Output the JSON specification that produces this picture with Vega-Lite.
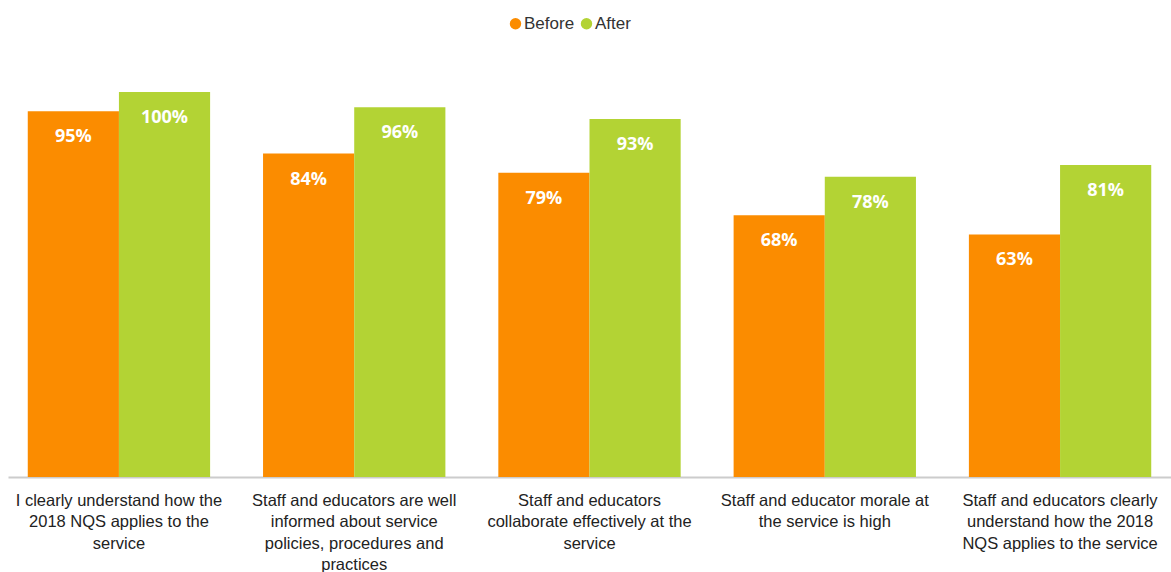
{
  "$schema": "https://vega.github.io/schema/vega-lite/v6.json",
  "autosize": {"type": "none"},
  "width": 1163,
  "height": 427,
  "padding": {"left": 8, "top": 50, "right": 0, "bottom": 95},
  "background": "white",
  "config": {"view": {"stroke": null}},
  "data": {
    "values": [
      {"statement": "I clearly understand how the|2018 NQS applies to the|service", "period": "Before", "value": 0.95},
      {"statement": "I clearly understand how the|2018 NQS applies to the|service", "period": "After", "value": 1.00},
      {"statement": "Staff and educators are well|informed about service|policies, procedures and|practices", "period": "Before", "value": 0.84},
      {"statement": "Staff and educators are well|informed about service|policies, procedures and|practices", "period": "After", "value": 0.96},
      {"statement": "Staff and educators|collaborate effectively at the|service", "period": "Before", "value": 0.79},
      {"statement": "Staff and educators|collaborate effectively at the|service", "period": "After", "value": 0.93},
      {"statement": "Staff and educator morale at|the service is high", "period": "Before", "value": 0.68},
      {"statement": "Staff and educator morale at|the service is high", "period": "After", "value": 0.78},
      {"statement": "Staff and educators clearly|understand how the 2018|NQS applies to the service", "period": "Before", "value": 0.63},
      {"statement": "Staff and educators clearly|understand how the 2018|NQS applies to the service", "period": "After", "value": 0.81}
    ]
  },
  "encoding": {
    "x": {
      "field": "statement",
      "type": "nominal",
      "sort": null,
      "scale": {"paddingInner": 0.225, "paddingOuter": 0.084},
      "axis": {
        "title": null,
        "labelAngle": 0,
        "labelExpr": "split(datum.label, '|')",
        "labelFont": "Liberation Sans",
        "labelFontSize": 16.5,
        "labelColor": "#222222",
        "labelLineHeight": 21.5,
        "labelPadding": 15,
        "labelLimit": 0,
        "ticks": false,
        "domainColor": "#cccccc",
        "domainWidth": 2,
        "labelBaseline": "top"
      }
    },
    "xOffset": {"field": "period", "type": "nominal", "sort": ["Before", "After"], "scale": {"paddingInner": 0, "paddingOuter": 0}},
    "y": {
      "field": "value",
      "type": "quantitative",
      "scale": {"domain": [0, 1.109], "nice": false, "zero": true},
      "axis": null
    }
  },
  "layer": [
    {
      "mark": {"type": "bar"},
      "encoding": {
        "color": {
          "field": "period",
          "type": "nominal",
          "sort": ["Before", "After"],
          "scale": {"domain": ["Before", "After"], "range": ["#fb8c00", "#b3d334"]},
          "legend": {
            "title": null,
            "orient": "none",
            "legendX": 499,
            "legendY": -35,
            "direction": "horizontal",
            "symbolType": "circle",
            "symbolSize": 130,
            "symbolStrokeWidth": 0,
            "labelFont": "Liberation Sans",
            "labelFontSize": 17,
            "labelColor": "#333333",
            "labelOffset": 0,
            "columnPadding": 3
          }
        }
      }
    },
    {
      "mark": {"type": "text", "baseline": "middle", "align": "center", "dy": 26, "font": "Open Sans", "fontWeight": "bold", "fontSize": 18, "color": "white"},
      "encoding": {
        "text": {"field": "value", "type": "quantitative", "format": ".0%"}
      }
    }
  ]
}
